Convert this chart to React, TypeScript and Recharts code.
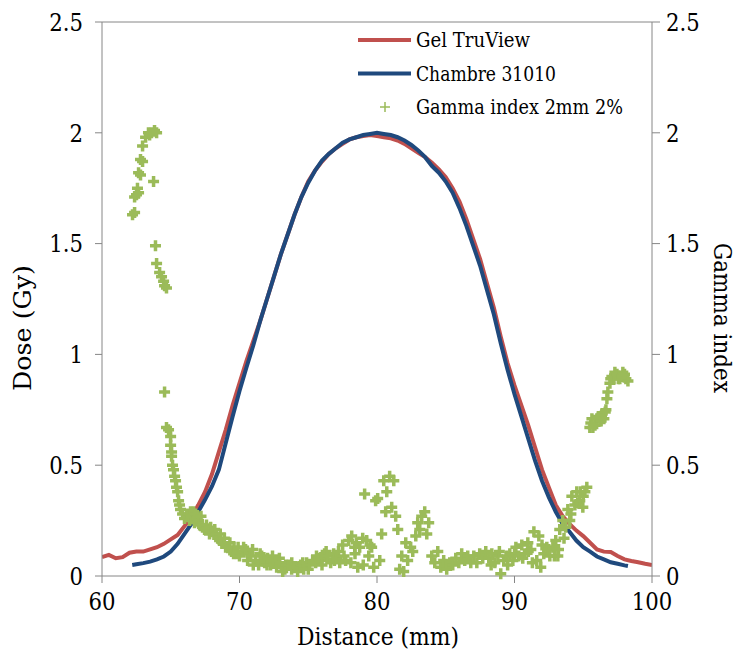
import React from 'react';
import { ComposedChart, Line, Scatter, XAxis, YAxis, ReferenceLine } from 'recharts';

const xTicks = [60, 70, 80, 90, 100];
const doseTicks = [0, 0.5, 1, 1.5, 2, 2.5];
const gammaTicks = [0, 0.5, 1, 1.5, 2, 2.5];

// [distance mm, dose Gy]
const gelTruView = [
  [60, 0.085], [60.5, 0.095], [61, 0.08], [61.5, 0.085], [62, 0.105], [62.5, 0.11], [63, 0.11],
  [63.5, 0.12], [64, 0.13], [64.5, 0.145], [65, 0.165], [65.5, 0.185], [66, 0.225], [66.5, 0.265],
  [67, 0.32], [67.5, 0.38], [68, 0.46], [68.5, 0.56], [69, 0.66], [69.5, 0.77], [70, 0.87],
  [70.5, 0.97], [71, 1.06], [71.5, 1.15], [72, 1.25], [72.5, 1.35], [73, 1.45], [73.5, 1.54],
  [74, 1.63], [74.5, 1.71], [75, 1.78], [75.5, 1.83], [76, 1.87], [76.5, 1.905], [77, 1.93],
  [77.5, 1.95], [78, 1.97], [78.5, 1.98], [79, 1.985], [79.5, 1.99], [80, 1.985], [80.5, 1.98],
  [81, 1.975], [81.5, 1.965], [82, 1.95], [82.5, 1.93], [83, 1.91], [83.5, 1.89], [84, 1.865],
  [84.5, 1.835], [85, 1.8], [85.5, 1.75], [86, 1.69], [86.5, 1.61], [87, 1.52], [87.5, 1.43],
  [88, 1.32], [88.5, 1.21], [89, 1.08], [89.5, 0.96], [90, 0.86], [90.5, 0.77], [91, 0.68],
  [91.5, 0.58], [92, 0.48], [92.5, 0.4], [93, 0.32], [93.5, 0.27], [94, 0.235], [94.5, 0.205],
  [95, 0.18], [95.5, 0.15], [96, 0.12], [96.5, 0.11], [97, 0.108], [97.5, 0.09], [98, 0.075],
  [98.5, 0.068], [99, 0.062], [99.5, 0.055], [100, 0.05],
];

const chambre31010 = [
  [62.2, 0.05], [62.5, 0.053], [63, 0.058], [63.5, 0.065], [64, 0.075], [64.5, 0.088], [65, 0.11],
  [65.5, 0.145], [66, 0.19], [66.5, 0.235], [67, 0.29], [67.5, 0.345], [68, 0.405], [68.5, 0.48],
  [69, 0.6], [69.5, 0.72], [70, 0.835], [70.5, 0.94], [71, 1.04], [71.5, 1.15], [72, 1.25],
  [72.5, 1.35], [73, 1.45], [73.5, 1.54], [74, 1.63], [74.5, 1.71], [75, 1.775], [75.5, 1.83],
  [76, 1.875], [76.5, 1.905], [77, 1.93], [77.5, 1.955], [78, 1.97], [78.5, 1.98], [79, 1.99],
  [79.5, 1.995], [80, 2.0], [80.5, 1.995], [81, 1.99], [81.5, 1.98], [82, 1.965], [82.5, 1.945],
  [83, 1.92], [83.5, 1.89], [84, 1.85], [84.5, 1.82], [85, 1.78], [85.5, 1.73], [86, 1.66],
  [86.5, 1.58], [87, 1.49], [87.5, 1.4], [88, 1.29], [88.5, 1.18], [89, 1.05], [89.5, 0.93],
  [90, 0.82], [90.5, 0.72], [91, 0.62], [91.5, 0.52], [92, 0.43], [92.5, 0.355], [93, 0.29],
  [93.5, 0.235], [94, 0.2], [94.5, 0.16], [95, 0.13], [95.5, 0.11], [96, 0.088], [96.5, 0.075],
  [97, 0.062], [97.5, 0.055], [98, 0.048], [98.25, 0.045],
];

// [distance mm, gamma index]
const gammaIndex = [
  [62.22, 1.63], [62.37, 1.64], [62.37, 1.71], [62.51, 1.72], [62.58, 1.75], [62.66, 1.73],
  [62.66, 1.82], [62.8, 1.81], [62.8, 1.88], [62.95, 1.87], [62.95, 1.94], [63.17, 1.98],
  [63.38, 2.0], [63.46, 1.99], [63.6, 2.0], [63.75, 1.78], [63.82, 2.01], [63.89, 1.49],
  [63.97, 2.0], [63.97, 1.41], [64.19, 1.37], [64.33, 1.35], [64.48, 1.33], [64.55, 1.31],
  [64.55, 0.83], [64.69, 1.3], [64.69, 0.67], [64.84, 0.66], [64.99, 0.63], [64.99, 0.59],
  [65.06, 0.56], [65.06, 0.54], [65.13, 0.5], [65.2, 0.48], [65.28, 0.45], [65.35, 0.43],
  [65.42, 0.4], [65.5, 0.38], [65.57, 0.34], [65.64, 0.32], [65.71, 0.3], [65.86, 0.28],
  [66.0, 0.26], [66.22, 0.28], [66.37, 0.25], [66.44, 0.29], [66.5, 0.27], [66.66, 0.29],
  [66.73, 0.24], [66.8, 0.28], [66.9, 0.26], [67.02, 0.25], [67.1, 0.23], [67.2, 0.27],
  [67.31, 0.22], [67.46, 0.21], [67.6, 0.23], [67.68, 0.21], [67.82, 0.19], [67.9, 0.22],
  [68.04, 0.2], [68.2, 0.21], [68.26, 0.19], [68.41, 0.17], [68.55, 0.16], [68.6, 0.19],
  [68.77, 0.15], [68.9, 0.17], [68.99, 0.13], [69.2, 0.13], [69.3, 0.15], [69.42, 0.11],
  [69.57, 0.1], [69.6, 0.13], [69.79, 0.1], [69.9, 0.13], [70.0, 0.09], [70.22, 0.11],
  [70.3, 0.13], [70.44, 0.12], [70.59, 0.07], [70.7, 0.1], [70.81, 0.09], [70.95, 0.12],
  [71.0, 0.05], [71.17, 0.07], [71.39, 0.05], [71.5, 0.1], [71.61, 0.09], [71.83, 0.06],
  [72.0, 0.05], [72.04, 0.08], [72.26, 0.05], [72.4, 0.09], [72.48, 0.07], [72.7, 0.04],
  [72.9, 0.08], [72.92, 0.06], [73.14, 0.02], [73.3, 0.03], [73.36, 0.05], [73.57, 0.05],
  [73.79, 0.03], [73.8, 0.06], [74.01, 0.04], [74.2, 0.04], [74.23, 0.02], [74.45, 0.05],
  [74.6, 0.06], [74.67, 0.03], [74.88, 0.06], [75.0, 0.03], [75.1, 0.05], [75.32, 0.07],
  [75.54, 0.06], [75.6, 0.09], [75.76, 0.08], [75.98, 0.07], [76.0, 0.05], [76.19, 0.1],
  [76.3, 0.11], [76.41, 0.09], [76.63, 0.06], [76.85, 0.1], [76.9, 0.07], [77.07, 0.08],
  [77.2, 0.11], [77.29, 0.06], [77.5, 0.14], [77.6, 0.09], [77.72, 0.07], [77.94, 0.16],
  [78.1, 0.06], [78.16, 0.18], [78.38, 0.13], [78.4, 0.1], [78.5, 0.15], [78.6, 0.04],
  [78.74, 0.13], [78.96, 0.17], [79.0, 0.05], [79.1, 0.37], [79.25, 0.16], [79.4, 0.09],
  [79.5, 0.14], [79.61, 0.13], [79.76, 0.04], [79.9, 0.34], [80.05, 0.35], [80.2, 0.07],
  [80.34, 0.19], [80.49, 0.43], [80.63, 0.29], [80.71, 0.38], [80.92, 0.45], [81.07, 0.31],
  [81.22, 0.43], [81.36, 0.27], [81.51, 0.21], [81.65, 0.03], [81.8, 0.09], [81.94, 0.02],
  [82.09, 0.15], [82.23, 0.07], [82.45, 0.13], [82.6, 0.11], [82.82, 0.18], [82.96, 0.24],
  [83.11, 0.21], [83.25, 0.27], [83.47, 0.29], [83.62, 0.19], [83.76, 0.24], [83.98, 0.09],
  [84.2, 0.06], [84.42, 0.11], [84.64, 0.04], [84.85, 0.07], [85.07, 0.03], [85.29, 0.06],
  [85.51, 0.05], [85.73, 0.08], [85.95, 0.06], [86.16, 0.1], [86.38, 0.07], [86.6, 0.09],
  [86.82, 0.06], [87.04, 0.09], [87.26, 0.06], [87.47, 0.1], [87.69, 0.08], [87.91, 0.11],
  [88.13, 0.08], [88.3, 0.05], [88.35, 0.1], [88.57, 0.06], [88.79, 0.09], [88.9, 0.11],
  [89.0, 0.01], [89.22, 0.07], [89.44, 0.09], [89.5, 0.05], [89.66, 0.1], [89.88, 0.07],
  [90.0, 0.1], [90.1, 0.13], [90.31, 0.09], [90.53, 0.14], [90.6, 0.08], [90.75, 0.1],
  [90.97, 0.15], [91.0, 0.11], [91.19, 0.12], [91.3, 0.06], [91.41, 0.2], [91.62, 0.07],
  [91.77, 0.18], [91.91, 0.04], [92.0, 0.14], [92.13, 0.1], [92.35, 0.13], [92.5, 0.12],
  [92.57, 0.09], [92.79, 0.13], [92.9, 0.09], [93.0, 0.16], [93.15, 0.09], [93.2, 0.12],
  [93.29, 0.21], [93.51, 0.25], [93.6, 0.17], [93.73, 0.22], [93.88, 0.3], [94.02, 0.25],
  [94.1, 0.28], [94.17, 0.36], [94.39, 0.32], [94.53, 0.38], [94.6, 0.33], [94.75, 0.34],
  [94.8, 0.38], [94.97, 0.31], [95.0, 0.36], [95.12, 0.38], [95.26, 0.4], [95.48, 0.67],
  [95.55, 0.69], [95.63, 0.71], [95.7, 0.67], [95.85, 0.68], [95.99, 0.71], [96.1, 0.72],
  [96.21, 0.7], [96.3, 0.7], [96.36, 0.73], [96.5, 0.71], [96.6, 0.74], [96.65, 0.75],
  [96.72, 0.8], [96.79, 0.83], [96.94, 0.87], [97.0, 0.89], [97.08, 0.9], [97.23, 0.89],
  [97.3, 0.92], [97.45, 0.91], [97.55, 0.89], [97.66, 0.89], [97.8, 0.9], [97.88, 0.92],
  [98.0, 0.91], [98.1, 0.89], [98.25, 0.88],
];

const legendItems = [
  { name: 'Gel TruView', kind: 'line', color: '#C0504D', width: 114 },
  { name: 'Chambre 31010', kind: 'line', color: '#1F497D', width: 140 },
  { name: 'Gamma index 2mm 2%', kind: 'plus', color: '#9BBB59', width: 207 },
];

const gelData = gelTruView.map(([x, y]) => ({ x, y }));
const chambreData = chambre31010.map(([x, y]) => ({ x, y }));
const gammaData = gammaIndex.map(([x, y]) => ({ x, y }));

const RED = '#C0504D';
const BLUE = '#1F497D';
const GREEN = '#9BBB59';
const AXIS = '#868686';
// Times-like look: DejaVu Serif squeezed horizontally with textLength
const FONT = 'DejaVu Serif';
const TICK_SIZE = 24.5;

// approximate Times widths (em) for tick digits
const tickWidth = (s: string) => {
  let w = 0;
  for (const c of s) w += c === '.' ? 0.25 : 0.5;
  return w * 27;
};

const makeTick = (anchor: 'start' | 'middle' | 'end', dy: string) => (props: any) => {
  const { x, y, payload } = props;
  const s = String(payload.value);
  return (
    <text
      x={x}
      y={y}
      dy={dy}
      textAnchor={anchor}
      fontSize={TICK_SIZE}
      fontFamily={FONT}
      fill="#000"
      textLength={tickWidth(s)}
      lengthAdjust="spacingAndGlyphs"
    >
      {s}
    </text>
  );
};

const PlusShape = (props: any) => {
  const { cx, cy } = props;
  if (cx == null || cy == null) return null;
  const r = 5.5;
  return (
    <path
      d={`M${cx - r},${cy} L${cx + r},${cy} M${cx},${cy - r} L${cx},${cy + r}`}
      stroke={GREEN}
      strokeWidth={3.5}
      fill="none"
    />
  );
};

export default function App() {
  return (
    <div style={{ position: 'absolute', left: 0, top: 0, width: 744, height: 657, background: '#fff' }}>
      <ComposedChart width={744} height={657} margin={{ top: 22, right: 0, bottom: 0, left: 0 }}>
        <XAxis
          dataKey="x"
          type="number"
          domain={[60, 100]}
          ticks={xTicks}
          height={81}
          allowDataOverflow
          axisLine={{ stroke: AXIS }}
          tickLine={{ stroke: AXIS }}
          tickSize={7}
          tickMargin={10}
          tick={makeTick('middle', '0.71em')}
          label={{
            content: () => (
              <text x={378} y={645} textAnchor="middle" fontSize={24.5} fontFamily={FONT} fill="#000" textLength={162} lengthAdjust="spacingAndGlyphs">
                Distance (mm)
              </text>
            ),
          }}
        />
        <YAxis
          yAxisId="left"
          type="number"
          domain={[0, 2.5]}
          ticks={doseTicks}
          width={102}
          axisLine={{ stroke: AXIS }}
          tickLine={{ stroke: AXIS }}
          tickSize={7}
          tickMargin={12}
          tick={makeTick('end', '0.36em')}
          label={{
            content: () => (
              <text x={31} y={328} transform="rotate(-90 31 328)" textAnchor="middle" fontSize={24.5} fontFamily={FONT} fill="#000" textLength={126} lengthAdjust="spacingAndGlyphs">
                Dose (Gy)
              </text>
            ),
          }}
        />
        <YAxis
          yAxisId="right"
          orientation="right"
          type="number"
          domain={[0, 2.5]}
          ticks={gammaTicks}
          width={92}
          axisLine={{ stroke: AXIS }}
          tickLine={{ stroke: AXIS }}
          tickSize={8}
          tickMargin={6}
          tick={makeTick('start', '0.36em')}
          label={{
            content: () => (
              <text x={714} y={318} transform="rotate(90 714 318)" textAnchor="middle" fontSize={24.5} fontFamily={FONT} fill="#000" textLength={150} lengthAdjust="spacingAndGlyphs">
                Gamma index
              </text>
            ),
          }}
        />
        <ReferenceLine yAxisId="left" y={2.5} stroke={AXIS} />
        <Line
          yAxisId="left"
          data={gelData}
          dataKey="y"
          type="linear"
          stroke={RED}
          strokeWidth={4}
          dot={false}
          isAnimationActive={false}
        />
        <Line
          yAxisId="left"
          data={chambreData}
          dataKey="y"
          type="linear"
          stroke={BLUE}
          strokeWidth={4}
          dot={false}
          isAnimationActive={false}
        />
        <Scatter
          yAxisId="right"
          data={gammaData}
          dataKey="y"
          shape={PlusShape}
          isAnimationActive={false}
        />
      </ComposedChart>
      <svg width={300} height={110} style={{ position: 'absolute', left: 350, top: 20, pointerEvents: 'none' }}>
        {legendItems.map((item, i) => {
          const cy = 20 + i * 33.5;
          return (
            <g key={item.name}>
              {item.kind === 'line' ? (
                <line x1={8} y1={cy} x2={61} y2={cy} stroke={item.color} strokeWidth={4} />
              ) : (
                <path d={`M${30},${cy} L${40},${cy} M${35},${cy - 5} L${35},${cy + 5}`} stroke={item.color} strokeWidth={1.5} />
              )}
              <text
                x={66}
                y={cy + 7}
                fontSize={20}
                fontFamily={FONT}
                fill="#000"
                textLength={item.width}
                lengthAdjust="spacingAndGlyphs"
              >
                {item.name}
              </text>
            </g>
          );
        })}
      </svg>
    </div>
  );
}
